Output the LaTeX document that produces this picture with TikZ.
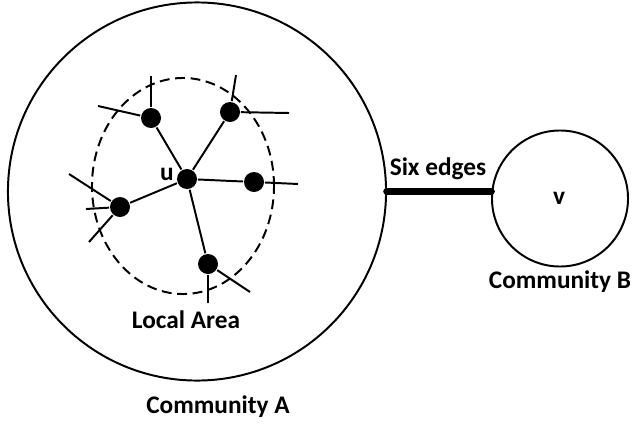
\documentclass[tikz,border=0pt]{standalone}
\usepackage{fontspec}
\setmainfont{Carlito}
\usetikzlibrary{shapes, calc}

\begin{document}
\begin{tikzpicture}[x=0.025cm, y=-0.025cm, line width=1.4pt,
	dot/.style={circle, fill=black, inner sep=0pt, minimum size=0.5cm},
	lbl/.style={font=\fontsize{18}{21}\selectfont\bfseries}]
	\useasboundingbox (0,0) rectangle (632,428);

	\node[circle, draw, line width=1.4pt, minimum size=9.45cm] (commA) at (197,191.5) {};
	\node[circle, draw, line width=1.4pt, minimum size=3.4cm] (commB) at (560,198.5) {};
	\draw[black, dash pattern=on 7pt off 4pt] (183,186) ellipse [x radius=2.275cm, y radius=2.7cm];

	\node[dot] (u) at (187,179) {};
	\node[dot] (n1) at (151,118) {};
	\node[dot] (n2) at (230,112) {};
	\node[dot] (n3) at (254,182) {};
	\node[dot] (n4) at (120,207) {};
	\node[dot] (n5) at (208,264) {};

	\coordinate (s1a) at (151,76);
	\coordinate (s1b) at (98,106);
	\coordinate (s2a) at (236,75);
	\coordinate (s2b) at (289,113);
	\coordinate (s3a) at (298,184);
	\coordinate (s4a) at (69,174);
	\coordinate (s4b) at (86,209);
	\coordinate (s4c) at (89,242);
	\coordinate (s5a) at (208,303);
	\coordinate (s5b) at (250,292);

	\foreach \n in {n1,n2,n3,n4,n5}
		\draw (u) -- (\n);
	\draw (n1) -- (s1a);
	\draw (n1) -- (s1b);
	\draw (n2) -- (s2a);
	\draw (n2) -- (s2b);
	\draw (n3) -- (s3a);
	\draw (n4) -- (s4a);
	\draw (n4) -- (s4b);
	\draw (n4) -- (s4c);
	\draw (n5) -- (s5a);
	\draw (n5) -- (s5b);

	\draw[line width=5.5pt, line cap=round] (commA.east) -- (commA.east -| commB.west);

	\node[lbl] (ulbl) at (167,174) {u};
	\node[lbl] (vlbl) at (559,198) {v};
	\node[lbl] (local) at (186,320) {Local Area};
	\node[lbl] (nameA) at (218,407) {Community A};
	\node[lbl] (nameB) at (560,282) {Community B};
	\node[lbl] (six) at (438,169) {Six edges};
\end{tikzpicture}
\end{document}
